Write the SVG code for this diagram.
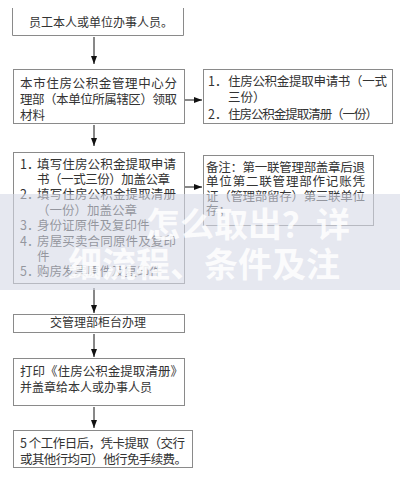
<svg xmlns="http://www.w3.org/2000/svg" width="400" height="482" viewBox="0 0 400 482">
<defs>
<style>
.box{fill:#ffffff;stroke:#8a8a8a;stroke-width:1}
.t{font-family:"Noto Sans CJK SC","Noto Sans",sans-serif;font-size:12.5px;fill:#333333}
.c{stroke:#111111;stroke-width:1;fill:none}
.wm{font-family:"Noto Sans CJK SC","Noto Sans",sans-serif;font-size:34px;font-weight:bold;fill:#ffffff;fill-opacity:0.85}
</style>
<marker id="ah" markerUnits="userSpaceOnUse" markerWidth="8" markerHeight="8" viewBox="0 0 8 8" refX="8" refY="4" orient="auto">
<path d="M0,1 L8,4 L0,7 Z" fill="#111111"/>
</marker>
</defs>
<rect width="400" height="482" fill="#ffffff"/>
<g id="connectors">
<line class="c" x1="94" y1="37" x2="94" y2="64" marker-end="url(#ah)"/>
<line class="c" x1="94" y1="125" x2="94" y2="146" marker-end="url(#ah)"/>
<line class="c" x1="94" y1="288" x2="94" y2="313" marker-end="url(#ah)"/>
<line class="c" x1="94" y1="334" x2="94" y2="357" marker-end="url(#ah)"/>
<line class="c" x1="94" y1="407" x2="94" y2="428" marker-end="url(#ah)"/>
<line class="c" x1="184" y1="100" x2="202" y2="100" marker-end="url(#ah)"/>
<line class="c" x1="184" y1="187" x2="202" y2="187" marker-end="url(#ah)"/>
</g>
<g id="node1">
<path class="box" d="M12.5,8 V35.5 H183.5 V8"/>
<text class="t" x="101" y="26.5" text-anchor="middle" style="font-size:12px">员工本人或单位办事人员。</text>
</g>
<g id="node2">
<rect class="box" x="13.5" y="69.5" width="171" height="54"/>
<text class="t" x="20" y="88" textLength="157" lengthAdjust="spacing">本市住房公积金管理中心分</text>
<text class="t" x="20" y="104" textLength="157" lengthAdjust="spacing">理部（本单位所属辖区）领取</text>
<text class="t" x="20" y="120">材料</text>
</g>
<g id="node3">
<rect class="box" x="203.5" y="69.5" width="189" height="54"/>
<text class="t" x="208" y="86">1．</text>
<text class="t" x="228" y="86" textLength="159" lengthAdjust="spacing">住房公积金提取申请书（一式</text>
<text class="t" x="228" y="102">三份）</text>
<text class="t" x="208" y="119">2．</text>
<text class="t" x="228" y="119" textLength="150" lengthAdjust="spacing">住房公积金提取清册（一份）</text>
</g>
<g id="node4">
<rect class="box" x="13.5" y="152.5" width="171" height="131"/>
<text class="t" x="20" y="168.5">1．</text>
<text class="t" x="37" y="168.5" textLength="139" lengthAdjust="spacing">填写住房公积金提取申请</text>
<text class="t" x="37" y="183.9" textLength="133" lengthAdjust="spacing">书（一式三份）加盖公章</text>
<text class="t" x="20" y="199.3">2．</text>
<text class="t" x="37" y="199.3" textLength="139" lengthAdjust="spacing">填写住房公积金提取清册</text>
<text class="t" x="37" y="214.7">（一份）加盖公章</text>
<text class="t" x="20" y="230.1">3．</text>
<text class="t" x="37" y="230.1">身份证原件及复印件</text>
<text class="t" x="20" y="245.5">4．</text>
<text class="t" x="37" y="245.5" textLength="139" lengthAdjust="spacing">房屋买卖合同原件及复印</text>
<text class="t" x="37" y="260.9">件</text>
<text class="t" x="20" y="276.3">5．</text>
<text class="t" x="37" y="276.3">购房发票原件及复印件</text>
</g>
<g id="node5">
<rect class="box" x="203.5" y="155.5" width="170" height="70"/>
<text class="t" x="206" y="171.5" textLength="159" lengthAdjust="spacing">备注：第一联管理部盖章后退</text>
<text class="t" x="206" y="186" textLength="159" lengthAdjust="spacing">单位第二联管理部作记账凭</text>
<text class="t" x="206" y="200.5" textLength="159" lengthAdjust="spacing">证（管理部留存）第三联单位</text>
<text class="t" x="206" y="215">存；</text>
</g>
<g id="node6">
<rect class="box" x="13.5" y="314.5" width="171" height="18"/>
<text class="t" x="98" y="327" text-anchor="middle" style="font-size:12px">交管理部柜台办理</text>
</g>
<g id="node7">
<rect class="box" x="13.5" y="358.5" width="171" height="47"/>
<text class="t" x="20" y="375.5" textLength="163" lengthAdjust="spacing">打印《住房公积金提取清册》</text>
<text class="t" x="20" y="391.5" style="font-size:12px">并盖章给本人或办事人员</text>
</g>
<g id="node8">
<rect class="box" x="13.5" y="430.5" width="179" height="37"/>
<text class="t" x="20" y="447.5" textLength="165" lengthAdjust="spacing">5 个工作日后，凭卡提取（交行</text>
<text class="t" x="20" y="463.5" textLength="167" lengthAdjust="spacing">或其他行均可）他行免手续费。</text>
</g>
<g id="watermark">
<rect x="0" y="194" width="400" height="96" fill="#d6d9e6" fill-opacity="0.6"/>
<text class="wm" x="350" y="237" text-anchor="end">怎么取出？详</text>
<text class="wm" x="340" y="277" text-anchor="end">细流程、条件及注</text>
</g>
</svg>
